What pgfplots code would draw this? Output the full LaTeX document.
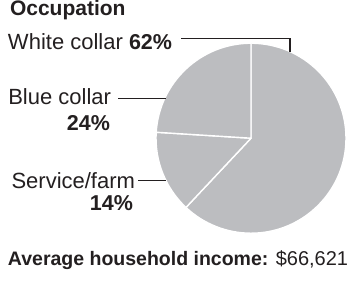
\documentclass[border=0pt]{standalone}
\usepackage{pgfplots}
\pgfplotsset{compat=1.18}
\usepackage{pgfplotstable}
\usepackage{fontspec}
\setmainfont{Liberation Sans}
\definecolor{piegray}{RGB}{188,189,192}
\definecolor{ink}{RGB}{35,31,32}

\pgfplotstableread{
share label
62 White
14 Service
24 Blue
}\piedata

\tikzset{lbl/.style={inner sep=0pt, outer sep=0pt, text=ink, font=\fontsize{22}{26}\selectfont}}
\newcommand\pct[1]{{\fontsize{21.5}{26}\selectfont\bfseries #1}}

\begin{document}
\begin{tikzpicture}
\pgfplotstablegetelem{0}{share}\of\piedata \edef\sA{\pgfplotsretval}
\pgfplotstablegetelem{1}{share}\of\piedata \edef\sB{\pgfplotsretval}
\pgfplotstablegetelem{2}{share}\of\piedata \edef\sC{\pgfplotsretval}
\pgfmathsetmacro\aA{90-3.6*\sA}
\pgfmathsetmacro\aB{\aA-3.6*\sB}
\pgfmathsetmacro\aC{\aB-3.6*\sC}
\begin{axis}[
  hide axis, scale only axis, width=353pt, height=283pt,
  xmin=0, xmax=353, ymin=0, ymax=283, clip=false,
]
\path (rel axis cs:0,0) rectangle (rel axis cs:1,1);
\fill[piegray, draw=white, line width=1.4pt, line join=round] (axis cs:251,145) -- ++(90:95pt) arc[start angle=90, end angle=\aA, radius=95pt] -- cycle;
\fill[piegray, draw=white, line width=1.4pt, line join=round] (axis cs:251,145) -- ++(\aA:95pt) arc[start angle=\aA, end angle=\aB, radius=95pt] -- cycle;
\fill[piegray, draw=white, line width=1.4pt, line join=round] (axis cs:251,145) -- ++(\aB:95pt) arc[start angle=\aB, end angle=\aC, radius=95pt] -- cycle;
\addplot[ink, line width=1.1pt, mark=none] coordinates {(181,245) (290,245) (290,231)};
\addplot[ink, line width=1.1pt, mark=none] coordinates {(118,185) (166,185)};
\addplot[ink, line width=1.1pt, mark=none] coordinates {(138,103) (166,103)};
\node[lbl, anchor=base west, font=\fontsize{21}{25}\selectfont\bfseries] at (axis cs:10,268) {Occupation};
\node[lbl, anchor=base west] at (axis cs:8,234) {White collar \pct{62\%}};
\node[lbl, anchor=base east] at (axis cs:111,179) {Blue collar};
\node[lbl, anchor=base east] at (axis cs:110,153) {\pct{24\%}};
\node[lbl, anchor=base east] at (axis cs:135,95) {Service/farm};
\node[lbl, anchor=base east] at (axis cs:133,73) {\pct{14\%}};
\node[lbl, anchor=base west, font=\fontsize{20}{24}\selectfont] at (axis cs:8,18) {{\fontsize{19.5}{24}\selectfont\bfseries Average household income:} \$66,621};
\end{axis}
\end{tikzpicture}
\end{document}
